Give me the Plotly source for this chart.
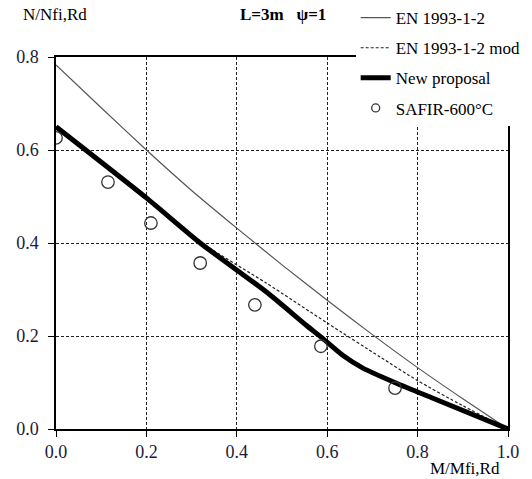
import plotly.graph_objects as go

# EN 1993-1-2
en_x = [0.0, 0.1, 0.2, 0.3, 0.4, 0.5, 0.6, 0.7, 0.8, 0.9, 1.0]
en_y = [0.783, 0.691, 0.600, 0.513, 0.432, 0.353, 0.277, 0.203, 0.132, 0.065, 0.0]

# EN 1993-1-2 mod
mod_x = [0.0, 0.2, 0.33, 0.465, 0.6, 0.717, 0.8, 0.9, 1.0]
mod_y = [0.650, 0.497, 0.396, 0.314, 0.228, 0.155, 0.104, 0.050, 0.0]

# New proposal
new_x = [0.0, 0.2, 0.319, 0.465, 0.555, 0.586, 0.635, 0.679, 0.752, 0.834, 1.0]
new_y = [0.650, 0.497, 0.400, 0.295, 0.222, 0.198, 0.158, 0.131, 0.099, 0.066, 0.0]

# SAFIR-600°C
saf_x = [0.0, 0.115, 0.210, 0.319, 0.440, 0.586, 0.750]
saf_y = [0.626, 0.531, 0.443, 0.357, 0.267, 0.178, 0.088]

xticks = [0.0, 0.2, 0.4, 0.6, 0.8, 1.0]
yticks = [0.0, 0.2, 0.4, 0.6, 0.8]

FONT = "Liberation Serif"

fig = go.Figure()
fig.add_trace(go.Scatter(x=en_x, y=en_y, mode="lines", name="EN 1993-1-2",
                         line=dict(color="#555555", width=1.2, shape="spline", smoothing=0.6),
                         legendgroup="a"))
fig.add_trace(go.Scatter(x=mod_x, y=mod_y, mode="lines", name="EN 1993-1-2 mod",
                         line=dict(color="#222222", width=1.2, dash="3px,2px",
                                   shape="spline", smoothing=0.6),
                         legendgroup="b"))
fig.add_trace(go.Scatter(x=new_x, y=new_y, mode="lines", name="New proposal",
                         line=dict(color="black", width=5, shape="spline", smoothing=0.6),
                         legendgroup="c"))
fig.add_trace(go.Scatter(x=saf_x, y=saf_y, mode="markers", name="SAFIR-600°C",
                         marker=dict(symbol="circle-open", size=12.5, color="#333333",
                                     line=dict(width=1.3, color="#333333")),
                         showlegend=False))
fig.add_trace(go.Scatter(x=[None], y=[None], mode="markers", name="SAFIR-600°C",
                         marker=dict(symbol="circle-open", size=8, color="#333333",
                                     line=dict(width=1.3, color="#333333")),
                         legendgroup="d"))

axis_common = dict(showline=True, linecolor="black", linewidth=1.5, mirror=True,
                   showgrid=True, gridcolor="#222222", gridwidth=1, griddash="3px,2px",
                   ticks="outside", ticklen=6, tickcolor="black", zeroline=False,
                   tickfont=dict(family=FONT, size=18, color="#1a1a3a"))

fig.update_xaxes(range=[0, 1.0], tickvals=xticks, ticktext=[f"{v:.1f}" for v in xticks],
                 **axis_common)
fig.update_yaxes(range=[0, 0.8], tickvals=yticks, ticktext=[f"{v:.1f}" for v in yticks],
                 ticklabelstandoff=6, **axis_common)

fig.update_layout(
    width=532, height=479,
    margin=dict(l=56, r=24, t=57, b=50, autoexpand=False),
    paper_bgcolor="white", plot_bgcolor="white",
    font=dict(family=FONT, size=17, color="black"),
    showlegend=True,
    legend=dict(x=0.663, y=1.153, xanchor="left", yanchor="top",
                bgcolor="white", borderwidth=0, tracegroupgap=5,
                font=dict(family=FONT, size=17, color="black")),
    annotations=[
        dict(text="N/Nfi,Rd", xref="paper", yref="paper", x=-0.077, y=1.113,
             xanchor="left", yanchor="middle", showarrow=False,
             font=dict(family=FONT, size=17)),
        dict(text="<b>L=3m&nbsp;&nbsp;&nbsp;ψ=1</b>", xref="paper", yref="paper", x=0.502, y=1.113,
             xanchor="center", yanchor="middle", showarrow=False,
             font=dict(family=FONT, size=17)),
        dict(text="M/Mfi,Rd", xref="paper", yref="paper", x=0.905, y=-0.105,
             xanchor="center", yanchor="middle", showarrow=False,
             font=dict(family=FONT, size=17)),
    ],
)

fig.write_html("out.html")
